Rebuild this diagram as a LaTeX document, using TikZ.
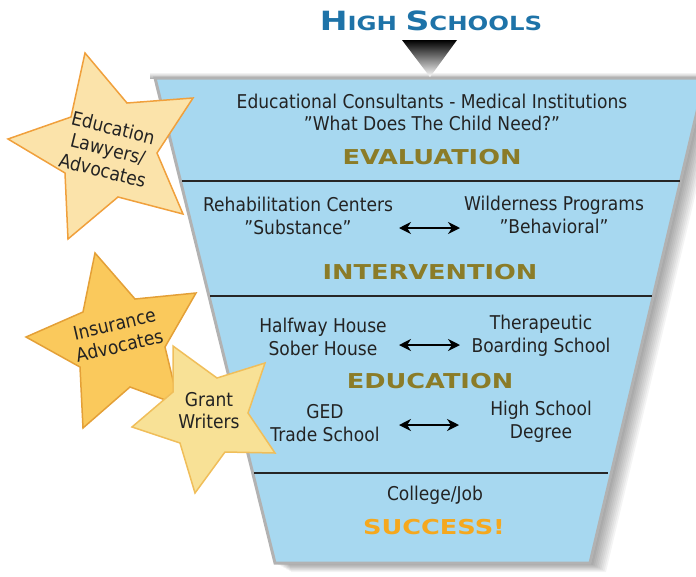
\documentclass[tikz,border=0pt]{standalone}
\usepackage{fontspec}
\usepackage{graphicx}
\setmainfont{DejaVu Sans}[FakeStretch=0.9]
\newfontfamily\headfont{DejaVu Sans}[FakeStretch=1.25]
\usetikzlibrary{arrows.meta}
\definecolor{funnelblue}{RGB}{167,216,240}
\definecolor{olive}{RGB}{139,124,40}
\definecolor{succ}{RGB}{245,168,30}
\definecolor{titleblue}{RGB}{30,115,168}
\definecolor{txt}{RGB}{35,35,35}
\definecolor{edufill}{RGB}{251,227,170}
\definecolor{eduline}{RGB}{240,160,60}
\definecolor{insfill}{RGB}{250,201,92}
\definecolor{insline}{RGB}{228,160,55}
\definecolor{grantfill}{RGB}{248,225,150}
\definecolor{grantline}{RGB}{240,190,90}
\begin{document}
\begin{tikzpicture}[x=1pt,y=-1pt,
  body/.style={font=\fontsize{19}{23}\selectfont, text=txt, align=center, inner sep=0pt},
  stars/.style={font=\fontsize{19}{22}\selectfont, text=txt, align=center, inner sep=0pt},
  head/.style={font=\headfont\bfseries\fontsize{20.5}{22}\selectfont, text=olive, inner sep=0pt},
  divider/.style={line width=1.5pt, black!85},
  twoway/.style={{Stealth[length=12pt,width=12pt]}-{Stealth[length=12pt,width=12pt]}, line width=1.8pt, black}]
\useasboundingbox (0,0) rectangle (696,576);
\clip (0,0) rectangle (696,576);
% shadow
\foreach \k in {1,...,10}{
  \begin{scope}[shift={(\k*1.6,\k*0.9)}]
    \fill[black,opacity=0.045] (155,78) -- (705,78) -- (590,563) -- (275,563) -- cycle;
  \end{scope}
}
\shade[top color=white, bottom color=black!30] (150,72) rectangle (696,78);
% funnel
\draw[black!30, line width=3pt, fill=funnelblue, line join=miter] (155,78) -- (705,78) -- (590,563) -- (275,563) -- cycle;
% title & triangle
\node[font=\headfont\bfseries, text=titleblue, inner sep=0pt] (title) at (431,21)
  {\fontsize{26.5}{26}\selectfont H\fontsize{19.5}{19}\selectfont IGH \fontsize{26.5}{26}\selectfont S\fontsize{19.5}{19}\selectfont CHOOLS};
\shade[top color=black, middle color=black!65, bottom color=white] (402,40) -- (457,40) -- (430,77) -- cycle;
% dividers
\coordinate (d1l) at (182,181); \coordinate (d1r) at (680,181);
\coordinate (d2l) at (210,296); \coordinate (d2r) at (652,296);
\coordinate (d3l) at (254,473); \coordinate (d3r) at (608,473);
\draw[divider] (d1l) -- (d1r);
\draw[divider] (d2l) -- (d2r);
\draw[divider] (d3l) -- (d3r);
% texts
\node[body] (t1) at (432,101) {Educational Consultants - Medical Institutions};
\node[body] (t2) at (432,123) {”What Does The Child Need?”};
\node[head] (eval) at (432,157) {EVALUATION};
\node[body] (rehab) at (298,216) {Rehabilitation Centers\\”Substance”};
\node[body] (wild) at (554,215) {Wilderness Programs\\”Behavioral”};
\node[head] (interv) at (430,272) {INTERVENTION};
\node[body] (half) at (323,337) {Halfway House\\Sober House};
\node[body] (thera) at (541,336) {Therapeutic\\Boarding School};
\node[head] (educ) at (430,381) {EDUCATION};
\node[body] (ged) at (325,423) {GED\\Trade School};
\node[body] (hs) at (541,422) {High School\\Degree};
\node[body] (cj) at (435,495) {College/Job};
\node[head, text=succ] (succ) at (434,527) {SUCCESS!};
% arrows
\coordinate (a1l) at (399,228); \coordinate (a1r) at (460,228);
\coordinate (a2l) at (399,345); \coordinate (a2r) at (460,345);
\coordinate (a3l) at (399,425); \coordinate (a3r) at (459,425);
\draw[twoway] (a1l) -- (a1r);
\draw[twoway] (a2l) -- (a2r);
\draw[twoway] (a3l) -- (a3r);
% stars
\draw[fill=edufill, draw=eduline, line width=1.5pt, line join=miter]
  (85,53) -- (127,103) -- (193,98) -- (157,153) -- (183,214) -- (118,197) -- (68,239) -- (65,173) -- (8,139) -- (71,117) -- cycle;
\node[stars, rotate=-14] (edu) at (108,149) {Education\\Lawyers/\\Advocates};
\draw[fill=insfill, draw=insline, line width=1.5pt, line join=miter]
  (95,253) -- (135,299) -- (196,293) -- (165,347) -- (179,405) -- (130,387) -- (83,428) -- (80,367) -- (26,337) -- (83,312) -- cycle;
\node[stars, rotate=13] (ins) at (117,335) {Insurance\\Advocates};
\draw[fill=grantfill, draw=grantline, line width=1.5pt, line join=miter]
  (173,346) -- (217,378) -- (265,363) -- (248,413) -- (275,453) -- (225,452) -- (195,493) -- (180,443) -- (132,427) -- (173,392) -- cycle;
\node[stars] (grant) at (209,411) {Grant\\Writers};
\end{tikzpicture}
\end{document}
